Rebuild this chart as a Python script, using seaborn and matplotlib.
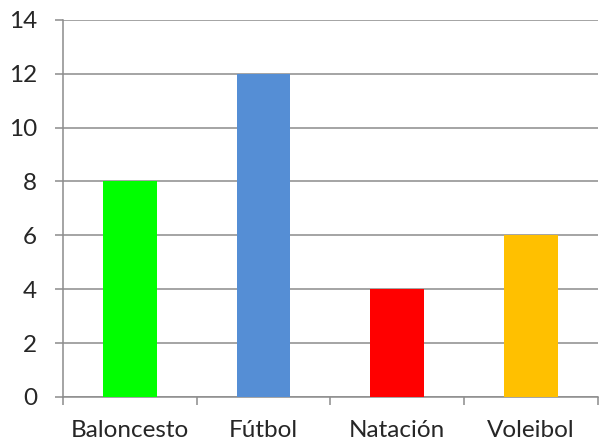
import pandas as pd
import numpy as np
import matplotlib.pyplot as plt
import seaborn as sns

# chart data
deportes = ['Baloncesto', 'Fútbol', 'Natación', 'Voleibol']
valores = [8, 12, 4, 6]
colores = ['#00FF00', '#558ED5', '#FF0000', '#FFC000']
y_ticks = [0, 2, 4, 6, 8, 10, 12, 14]

df = pd.DataFrame({'Deporte': deportes, 'Valor': valores})

sns.set_style('white')
plt.rcParams['font.family'] = ['Lato', 'DejaVu Sans']

fig = plt.figure(figsize=(5.99, 4.4), dpi=100)
ax = fig.add_axes([0.105, 0.098, 0.893, 0.857])

sns.barplot(data=df, x='Deporte', y='Valor', hue='Deporte', palette=colores,
            legend=False, width=0.4, saturation=1, linewidth=0, ax=ax, zorder=3)

grid_col = '#8C8C8C'
ax.set_ylim(0, 14)
ax.set_yticks(y_ticks)
ax.set_xlim(-0.5, len(deportes) - 0.5)
ax.yaxis.grid(True, color=grid_col, linewidth=1.1, zorder=0)
ax.set_axisbelow(True)

for s in ['top', 'right']:
    ax.spines[s].set_visible(False)
for s in ['left', 'bottom']:
    ax.spines[s].set_color(grid_col)
    ax.spines[s].set_linewidth(1.1)

# ticks between categories, like the spreadsheet chart
ax.set_xticks(np.arange(-0.5, len(deportes), 1.0), minor=True)
ax.tick_params(axis='x', which='minor', length=6, width=1.1, color=grid_col, direction='out', bottom=True)
ax.tick_params(axis='x', which='major', length=0, pad=16.5, labelsize=17.5)
ax.tick_params(axis='y', length=6, width=1.1, color=grid_col, direction='out', left=True, pad=12.5, labelsize=17.5)

ax.set_xlabel('')
ax.set_ylabel('')

fig.savefig('out.png', dpi=100)
